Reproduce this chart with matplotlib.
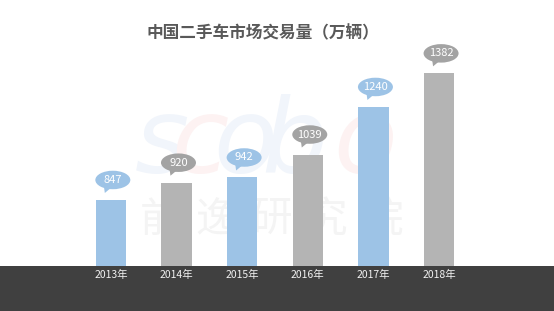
import matplotlib
matplotlib.use('Agg')
import matplotlib.pyplot as plt
from matplotlib.patches import Ellipse, Polygon, Rectangle
from matplotlib.transforms import ScaledTranslation

plt.rcParams['font.family'] = ['Noto Sans CJK SC', 'DejaVu Sans']

years = ['2013年', '2014年', '2015年', '2016年', '2017年', '2018年']
volume = [847, 920, 942, 1039, 1240, 1382]

blue = '#9dc3e6'
gray = '#b4b4b4'
bar_colors = [blue, gray, blue, gray, blue, gray]
bubble_colors = ['#9dc3e6', '#a3a3a3', '#9dc3e6', '#a3a3a3', '#9dc3e6', '#a3a3a3']

fig = plt.figure(figsize=(5.54, 3.11), dpi=100)
ax = fig.add_axes([0.1408, 0.1447, 0.711, 0.7267])
ax.patch.set_alpha(0)

# dark band along the bottom
fig.patches.append(Rectangle((0, 0), 1, 0.1447, transform=fig.transFigure,
                             facecolor='#404040', edgecolor='none', zorder=-1))

# faint watermark
wm_letters = ['s', 'c', 'o', 'b', 'o']
wm_colors = ['#f1f5fb', '#fdf2f2', '#f1f5fb', '#f1f5fb', '#fdf2f2']
wm_x = [0.292, 0.361, 0.442, 0.532, 0.659]
for ch, c, xx in zip(wm_letters, wm_colors, wm_x):
    fig.text(xx, 0.444, ch, fontsize=75, color=c, style='italic', family='DejaVu Sans',
             ha='center', va='baseline', zorder=-2)
wm_cn = ['前', '逸', '研', '究', '院']
for i, ch in enumerate(wm_cn):
    fig.text(0.29 + i * 0.1, 0.29, ch, fontsize=30, color='#f4f4f4',
             ha='center', va='center', zorder=-2)

x = list(range(len(years)))
ax.bar(x, volume, width=0.46, color=bar_colors, zorder=2)

ax.set_xlim(-0.5, 5.5)
ax.set_ylim(568, 1523)
ax.set_yticks([])
ax.set_xticks(x)
ax.set_xticklabels(years, color='#f2f2f2', fontsize=7.5)
ax.tick_params(axis='x', length=0, pad=3)
for s in ax.spines.values():
    s.set_visible(False)

# speech bubbles above each bar
for xi, v, c in zip(x, volume, bubble_colors):
    tr = fig.dpi_scale_trans + ScaledTranslation(xi, v, ax.transData)
    ax.add_patch(Ellipse((0.02, 0.20), 0.35, 0.185, transform=tr,
                         facecolor=c, edgecolor='none', zorder=3, clip_on=False))
    ax.add_patch(Polygon([(-0.07, 0.14), (-0.06, 0.07), (0.0, 0.12)], closed=True,
                         transform=tr, facecolor=c, edgecolor='none', zorder=3,
                         clip_on=False))
    ax.annotate(str(v), (xi, v), xytext=(1.5, 14.4), textcoords='offset points',
                ha='center', va='center', fontsize=8, color='white', zorder=4)

fig.text(0.475, 0.894, '中国二手车市场交易量（万辆）', fontsize=12, fontweight='bold',
         color='#595959', ha='center', va='center')

fig.savefig('out.png', dpi=100)
